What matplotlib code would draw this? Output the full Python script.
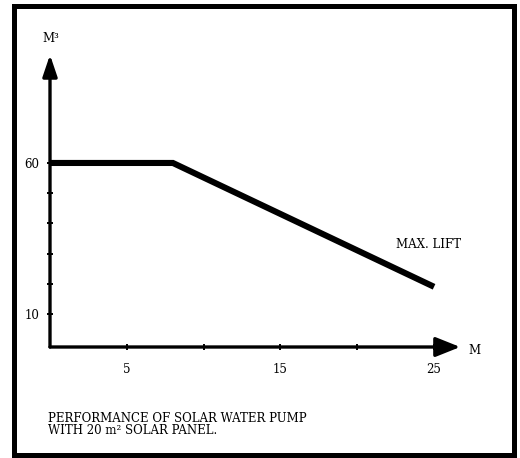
import matplotlib
matplotlib.use("Agg")
import matplotlib.pyplot as plt
from matplotlib.patches import Rectangle

# ---- data ----
lift_m = [0, 8, 25]            # head (M)
volume_m3 = [60, 60, 19]       # daily volume (M³)
x_ticks = [5, 10, 15, 20, 25]
x_tick_labels = ["5", "", "15", "", "25"]
y_ticks = [10, 20, 30, 40, 50, 60]
y_tick_labels = ["10", "", "", "", "", "60"]
series_label = "MAX. LIFT"
x_unit = "M"
y_unit = "M\u00b3"
caption = ["PERFORMANCE OF SOLAR WATER PUMP", "WITH 20 m\u00b2 SOLAR PANEL."]

W, H = 520, 458
plt.rcParams["font.family"] = ["DejaVu Serif"]
fig = plt.figure(figsize=(W / 100, H / 100), dpi=100)

def fx(x):
    return x / W

def fy(y):
    return 1 - y / H

# axes: pixel x 50..470, y 347..50
ax = fig.add_axes([fx(50), fy(347), (470 - 50) / W, (347 - 50) / H])
ax.set_xlim(0, 27.34)
ax.set_ylim(-0.93, 97.4)
ax.patch.set_alpha(0)
for s in ax.spines.values():
    s.set_visible(False)

# axis lines with arrow heads
ax.annotate("", xy=(26.7, -0.93), xytext=(0, -0.93), xycoords="data",
            arrowprops=dict(arrowstyle="-|>,head_length=0.75,head_width=0.3",
                            lw=2.4, color="black", mutation_scale=20,
                            shrinkA=0, shrinkB=0), annotation_clip=False)
ax.annotate("", xy=(0, 95.8), xytext=(0, -0.93), xycoords="data",
            arrowprops=dict(arrowstyle="-|>,head_length=0.65,head_width=0.22",
                            lw=2.4, color="black", mutation_scale=20,
                            shrinkA=0, shrinkB=0), annotation_clip=False)

ax.plot(lift_m, volume_m3, color="black", lw=4.4,
        solid_capstyle="butt", solid_joinstyle="miter", clip_on=False)

ax.set_xticks(x_ticks)
ax.set_xticklabels(x_tick_labels)
ax.set_yticks(y_ticks)
ax.set_yticklabels(y_tick_labels)
ax.tick_params(axis="both", direction="inout", length=5, width=1.4,
               labelsize=8.5, color="black")
ax.tick_params(axis="x", pad=9)
ax.tick_params(axis="y", pad=5)

fig.text(fx(51), fy(38), y_unit, ha="center", va="center", fontsize=8.5)
fig.text(fx(474), fy(350), x_unit, ha="center", va="center", fontsize=8.5)
fig.text(fx(429), fy(245), series_label, ha="center", va="center", fontsize=8.5)
fig.text(fx(48), fy(418), caption[0], ha="left", va="center", fontsize=8.5)
fig.text(fx(48), fy(431), caption[1], ha="left", va="center", fontsize=8.5)

# frame
fig.patches.append(Rectangle((fx(13.5), fy(455)), (513.5 - 13.5) / W, (455 - 6) / H,
                             transform=fig.transFigure, fill=False,
                             lw=3.6, edgecolor="black", joinstyle="miter"))

fig.savefig("out.png", dpi=100, facecolor="white")
